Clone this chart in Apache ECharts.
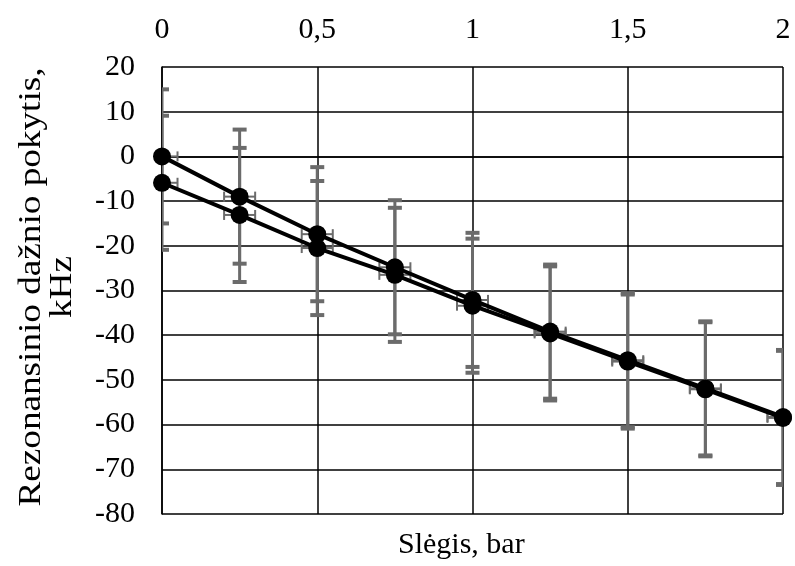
<!DOCTYPE html>
<html>
<head>
<meta charset="utf-8">
<script src="https://cdn.jsdelivr.net/npm/echarts@6/dist/echarts.min.js"></script>
<style>
	html, body { margin: 0; padding: 0; background: #fff; }
	#chart { width: 795px; height: 566px; }
</style>
</head>
<body>
<div id="chart"></div>
<script>
// slėgis (bar)
const pressure = [0, 0.25, 0.5, 0.75, 1, 1.25, 1.5, 1.75, 2]
// dažnio pokytis (kHz), dvi matavimų serijos
const shiftA = [0, -9.0, -17.4, -24.8, -32.1, -39.2, -45.6, -51.9, -58.3]
const shiftB = [-5.9, -13.1, -20.5, -26.5, -33.4, -39.6, -45.9, -52.1, -58.5]
// paklaidos
const errA = [15, 15, 15, 15, 15, 15, 15, 15, 15]
const errB = [15, 15, 15, 15, 15, 15, 15, 15, 15]
const errX = [0.05, 0.05, 0.05, 0.05, 0.05, 0.05, 0.05, 0.05, 0.05]
const yTicks = [-80, -70, -60, -50, -40, -30, -20, -10, 0, 10, 20]

const FONT = "'Liberation Serif', 'Times New Roman', serif"

function errorData(values, errs) {
	return pressure.map(function (p, i) {
		return [p, values[i], errX[i], errs[i]]
	})
}

function renderError(params, api) {
	let x = api.value(0)
	let y = api.value(1)
	let ex = api.value(2)
	let ey = api.value(3)
	let top = api.coord([x, y + ey])
	let bottom = api.coord([x, y - ey])
	let left = api.coord([x - ex, y])
	let right = api.coord([x + ex, y])
	let capW = 7
	let capH = 5
	let style = {stroke: "#6b6b6b", lineWidth: 3}
	let cap = {stroke: "#6b6b6b", lineWidth: 4}
	let thin = {stroke: "#6b6b6b", lineWidth: 2}
	return {
		type: "group",
		children: [
			{type: "line", shape: {x1: top[0], y1: top[1], x2: bottom[0], y2: bottom[1]}, style: style},
			{type: "line", shape: {x1: top[0] - capW, y1: top[1], x2: top[0] + capW, y2: top[1]}, style: cap},
			{type: "line", shape: {x1: bottom[0] - capW, y1: bottom[1], x2: bottom[0] + capW, y2: bottom[1]}, style: cap},
			{type: "line", shape: {x1: left[0], y1: left[1], x2: right[0], y2: right[1]}, style: thin},
			{type: "line", shape: {x1: left[0], y1: left[1] - capH, x2: left[0], y2: left[1] + capH}, style: thin},
			{type: "line", shape: {x1: right[0], y1: right[1] - capH, x2: right[0], y2: right[1] + capH}, style: thin}
		]
	}
}

let chart = echarts.init(document.getElementById("chart"), null, {renderer: "canvas"})
chart.setOption({
	animation: false,
	backgroundColor: "#fff",
	grid: {
		left: 162,
		right: 12,
		top: 67,
		bottom: 52
	},
	xAxis: {
		type: "value",
		position: "top",
		min: 0,
		max: 2,
		interval: 0.5,
		axisLine: {show: true, lineStyle: {color: "#000", width: 1.5}},
		axisTick: {show: false},
		axisLabel: {
			fontFamily: FONT,
			fontSize: 30,
			color: "#000",
			margin: 22,
			formatter: function (v) {
				return String(v).replace(".", ",")
			}
		},
		splitLine: {show: true, lineStyle: {color: "#000", width: 1.5}}
	},
	yAxis: {
		type: "value",
		min: yTicks[0],
		max: yTicks[yTicks.length - 1],
		interval: 10,
		axisLine: {show: true, lineStyle: {color: "#000", width: 1.5}},
		axisTick: {show: false},
		axisLabel: {fontFamily: FONT, fontSize: 30, color: "#000", margin: 27},
		splitLine: {show: true, lineStyle: {color: "#000", width: 1.5}}
	},
	graphic: [
		{
			// ašies pavadinimas, ištemptas kaip originale
			type: "text",
			x: 47,
			y: 287,
			rotation: Math.PI / 2,
			scaleX: 1.2,
			style: {
				text: "Rezonansinio dažnio pokytis,\nkHz",
				font: "31px " + FONT,
				fill: "#000",
				align: "center",
				verticalAlign: "middle",
				textAlign: "center",
				textVerticalAlign: "middle",
				lineHeight: 31
			}
		},
		{
			type: "text",
			left: 398,
			top: 530,
			style: {text: "Slėgis, bar", font: "30px " + FONT, fill: "#000"}
		}
	],
	series: [
		{
			type: "custom",
			renderItem: renderError,
			clip: true,
			z: 1,
			data: errorData(shiftA, errA)
		},
		{
			type: "custom",
			renderItem: renderError,
			clip: true,
			z: 1,
			data: errorData(shiftB, errB)
		},
		{
			type: "line",
			z: 3,
			data: pressure.map(function (p, i) { return [p, shiftA[i]] }),
			symbol: "circle",
			symbolSize: 18,
			itemStyle: {color: "#000"},
			lineStyle: {color: "#000", width: 4}
		},
		{
			type: "line",
			z: 3,
			data: pressure.map(function (p, i) { return [p, shiftB[i]] }),
			symbol: "circle",
			symbolSize: 18,
			itemStyle: {color: "#000"},
			lineStyle: {color: "#000", width: 4}
		}
	]
})
</script>
</body>
</html>
